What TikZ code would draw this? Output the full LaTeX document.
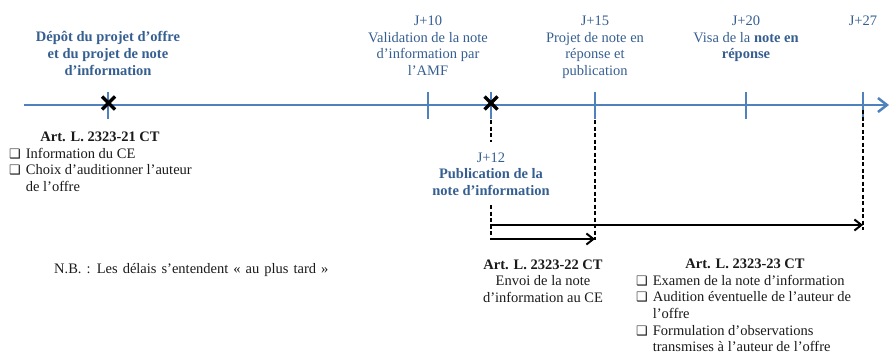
\documentclass[tikz,border=0pt]{standalone}
\usepackage{fontspec}
\setmainfont{Liberation Serif}
\newfontfamily\symfont{DejaVu Sans}
\usetikzlibrary{arrows.meta}
\definecolor{tlblue}{HTML}{4F81BD}
\definecolor{txblue}{HTML}{365F91}
\definecolor{txdark}{HTML}{1A1A1A}
\newcommand\clines[1]{\begin{tabular}[t]{@{}c@{}}#1\end{tabular}}
\newcommand\llines[1]{\begin{tabular}[t]{@{}l@{\hspace{5pt}}l@{}}#1\end{tabular}}
\newcommand\cbx{{\symfont\fontsize{13}{10}\selectfont ❑}}
\tikzset{
  every node/.style={inner sep=0pt, font=\fontsize{14.5}{16.5}\selectfont},
  bluetext/.style={text=txblue, anchor=base},
  darktext/.style={text=txdark, anchor=base},
  timeline/.style={line width=2.5pt, draw=tlblue},
  tick/.style={line width=2.5pt, draw=tlblue},
  xmark/.style={line width=3.3pt, draw=black},
  dashline/.style={line width=2pt, draw=black, dash pattern=on 4pt off 2.5pt},
  period/.style={line width=2pt, draw=black, -{Straight Barb[length=7pt,width=11pt,line width=2pt]}},
}
\begin{document}
\begin{tikzpicture}[x=1pt,y=-1pt]
\useasboundingbox (0,0) rectangle (891,353);
% timeline
\coordinate (tstart) at (24,105);
\coordinate (tend) at (889,105);
\draw[timeline, -{Straight Barb[length=9pt,width=14pt,line width=2.5pt]}] (tstart) -- (tend);
% ticks
\foreach \n/\x in {t0/108, t10/428, t12/491, t15/595, t20/746, t27/863}{
  \coordinate (\n) at (\x,105);
  \draw[tick] (\x,92) -- (\x,119);
}
% X marks
\foreach \x in {108.5, 491}{
  \draw[xmark] (\x-6.5,96.5) -- (\x+6.5,109.5);
  \draw[xmark] (\x-6.5,109.5) -- (\x+6.5,96.5);
}
% top labels
\node[bluetext, font=\fontsize{14.5}{16.5}\selectfont\bfseries] (dep) at (108,42)
  {\clines{Dépôt du projet d’offre\\et du projet de note\\d’information}};
\node[bluetext] (j10) at (428,26)
  {\clines{J+10\\Validation de la note\\d’information par\\l’AMF}};
\node[bluetext] (j15) at (595,26)
  {\clines{J+15\\Projet de note en\\réponse et\\publication}};
\node[bluetext] (j20) at (746,26)
  {\clines{J+20\\Visa de la \textbf{note en}\\\textbf{réponse}}};
\node[bluetext] (j27) at (863,26) {J+27};
% J+12 label
\node[bluetext] (j12) at (491,162)
  {\clines{J+12\\\textbf{Publication de la}\\\textbf{note d’information}}};
% Art 21
\node[darktext] (art21) at (100,141) {\textbf{Art. L. 2323-21 CT}};
\node[darktext, anchor=base west] (list21) at (9,158)
  {\llines{\cbx & Information du CE\\ \cbx & Choix d’auditionner l’auteur\\ & de l’offre}};
% NB
\node[darktext, anchor=base west] (nb) at (54,273) {\spaceskip=5pt plus 1pt N.B. : Les délais s’entendent « au plus tard »};
% Art 22
\node[darktext] (art22) at (543,269)
  {\clines{\textbf{Art. L. 2323-22 CT}\\Envoi de la note\\d’information au CE}};
% Art 23
\node[darktext] (art23) at (745,268.5) {\textbf{Art. L. 2323-23 CT}};
\node[darktext, anchor=base west] (list23) at (636,285)
  {\llines{\cbx & Examen de la note d’information\\ \cbx & Audition éventuelle de l’auteur de\\ & l’offre\\[0.5pt] \cbx & Formulation d’observations\\ & transmises à l’auteur de l’offre}};
% dashed guides
\coordinate (d12a) at (491,120); \coordinate (d12b) at (491,142);
\coordinate (d12c) at (491,205); \coordinate (d12d) at (491,240);
\coordinate (d15a) at (595,120); \coordinate (d15b) at (595,240);
\coordinate (d27a) at (863,110); \coordinate (d27b) at (863,230);
\draw[dashline] (d12a) -- (d12b);
\draw[dashline] (d12c) -- (d12d);
\draw[dashline] (d15a) -- (d15b);
\draw[dashline] (d27a) -- (d27b);
% period arrows
\coordinate (p1s) at (490,239); \coordinate (p1e) at (595,239);
\coordinate (p2s) at (490,225); \coordinate (p2e) at (863,225);
\draw[period] (p1s) -- (p1e);
\draw[period] (p2s) -- (p2e);
\end{tikzpicture}
\end{document}
